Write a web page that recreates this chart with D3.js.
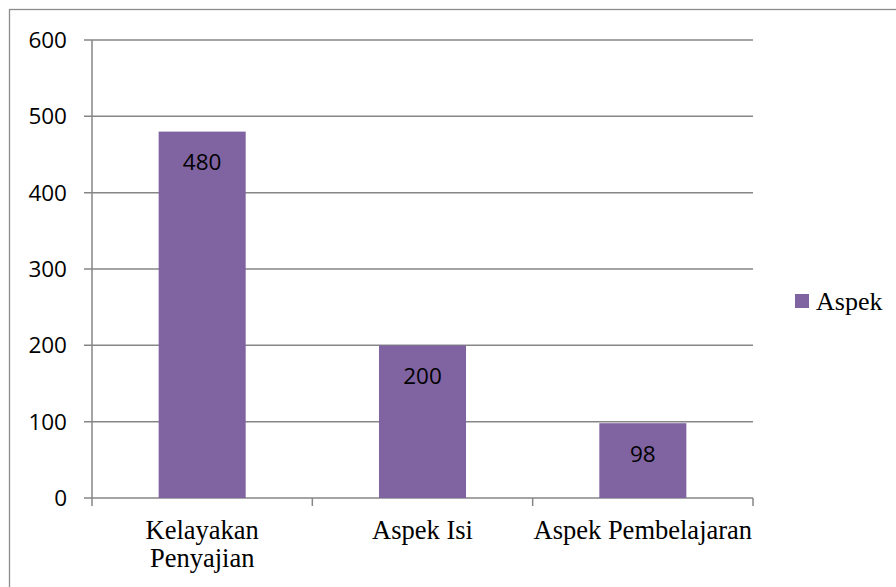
<!DOCTYPE html>
<html><head><meta charset="utf-8">
<script src="https://cdn.jsdelivr.net/npm/d3@7"></script>
<style>body{margin:0;background:#fff}svg{display:block}</style>
</head><body><svg id="c" width="896" height="587"></svg>
<script>
const categories = [["Kelayakan","Penyajian"],["Aspek Isi"],["Aspek Pembelajaran"]];
const values = [480, 200, 98];
const yTicks = [0,100,200,300,400,500,600];
const seriesName = "Aspek";

const svg = d3.select("#c");
const color = "#8064A2", grid = "#868686";
const L = 92, R = 753, T = 40, B = 498;
svg.append("rect").attr("x",9.5).attr("y",9.5).attr("width",900).attr("height",600)
  .attr("fill","none").attr("stroke","#8c8c8c").attr("stroke-width",1.3);

const x = d3.scaleBand().domain(d3.range(categories.length)).range([L,R]).paddingInner(0.605).paddingOuter(0.3025);
const y = d3.scaleLinear().domain([0,600]).range([B,T]);

// gridlines
svg.append("g").selectAll("line").data(yTicks).join("line")
  .attr("x1",L-8).attr("x2",R).attr("y1",d=>y(d)).attr("y2",d=>y(d))
  .attr("stroke",grid).attr("stroke-width",1.5);
// y axis line
svg.append("line").attr("x1",L).attr("x2",L).attr("y1",T).attr("y2",B)
  .attr("stroke",grid).attr("stroke-width",1.5);
// x tick marks
const bw = (R-L)/categories.length;
svg.append("g").selectAll("line").data(d3.range(categories.length+1)).join("line")
  .attr("x1",d=>L+d*bw).attr("x2",d=>L+d*bw).attr("y1",B).attr("y2",B+8)
  .attr("stroke",grid).attr("stroke-width",1.5);
// y labels
svg.append("g").selectAll("text").data(yTicks).join("text")
  .attr("x",67).attr("y",d=>y(d)).attr("dy","0.35em").attr("text-anchor","end")
  .attr("font-family","'Open Sans', 'Noto Sans', sans-serif").attr("font-size",22.5).attr("fill","#000")
  .text(d=>d);
// bars
svg.append("g").selectAll("rect").data(values).join("rect")
  .attr("x",(d,i)=>x(i)).attr("width",x.bandwidth())
  .attr("y",d=>y(d)).attr("height",d=>B-y(d)).attr("fill",color);
// value labels
svg.append("g").selectAll("text").data(values).join("text")
  .attr("x",(d,i)=>x(i)+x.bandwidth()/2).attr("y",d=>y(d)+31).attr("dy","0.35em")
  .attr("text-anchor","middle").attr("font-family","'Open Sans', 'Noto Sans', sans-serif")
  .attr("font-size",22.5).attr("fill","#000").text(d=>d);
// category labels
const cat = svg.append("g").selectAll("text").data(categories).join("text")
  .attr("text-anchor","middle").attr("font-family","'Liberation Serif', 'Times New Roman', serif")
  .attr("font-size",26.5).attr("fill","#000");
cat.each(function(lines,i){
  const t = d3.select(this);
  lines.forEach((ln,j)=>t.append("tspan").attr("x",L+bw*(i+0.5)).attr("y",539+j*28).text(ln));
});
// legend
svg.append("rect").attr("x",795).attr("y",294).attr("width",14).attr("height",14).attr("fill",color);
svg.append("text").attr("x",816).attr("y",310).attr("font-family","'Liberation Serif', 'Times New Roman', serif")
  .attr("font-size",26).attr("fill","#000").text(seriesName);
</script></body></html>
